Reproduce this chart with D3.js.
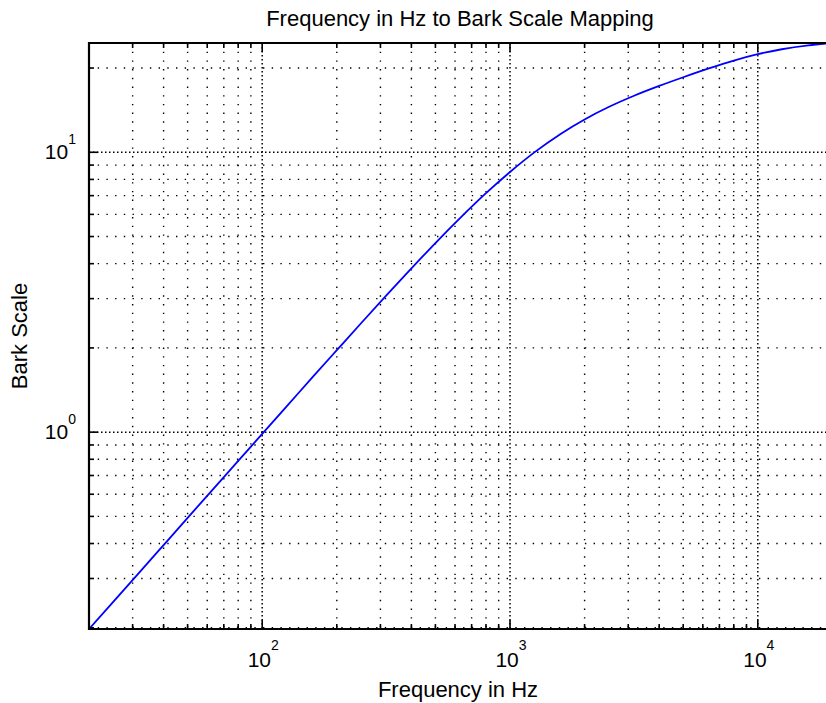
<!DOCTYPE html>
<html>
<head>
<meta charset="utf-8">
<script src="https://d3js.org/d3.v7.min.js"></script>
<style>
  body { margin: 0; background: #fff; }
  svg { display: block; }
  text { font-family: "Liberation Sans", Arial, sans-serif; fill: #000; }
</style>
</head>
<body>
<div id="chart"></div>
<script>
// values (Hz -> Bark)
const freqHz = [20, 25, 31.5, 40, 50, 63, 80, 100, 125, 160, 200, 250, 315, 400, 500, 630, 800,
    1000, 1250, 1600, 2000, 2500, 3150, 4000, 5000, 6300, 8000, 10000, 12500, 16000, 20000];
const barkValues = [0.198, 0.247, 0.311, 0.395, 0.494, 0.622, 0.789, 0.986, 1.231, 1.575, 1.963, 2.445,
    3.061, 3.847, 4.741, 5.830, 7.142, 8.505, 9.974, 11.633, 13.104, 14.509, 15.888, 17.259, 18.539,
    19.894, 21.275, 22.424, 23.345, 24.095, 24.575];
const xMajorTicks = [100, 1000, 10000];
const yMajorTicks = [1, 10];
const xDomain = [20, 20000];
const yDomain = [0.198, 24.575];

const titleText = "Frequency in Hz to Bark Scale Mapping";
const xLabelText = "Frequency in Hz";
const yLabelText = "Bark Scale";

const width = 826, height = 703;
const plotLeft = 89, plotTop = 43, plotBottom = 629;
const decade = 247.8;
const plotRight = plotLeft + decade * Math.log10(xDomain[1] / xDomain[0]);

const svg = d3.select("#chart").append("svg")
    .attr("width", width)
    .attr("height", height);

const x = d3.scaleLog().domain(xDomain).range([plotLeft, plotRight]);
const y = d3.scaleLog().domain(yDomain).range([plotBottom, plotTop]);

// all 1..9 multiples from the scales, decades kept apart
const isDecade = v => Math.abs(Math.log10(v) - Math.round(Math.log10(v))) < 1e-9;
const xMinor = x.ticks().filter(v => !isDecade(v));
const yMinor = y.ticks().filter(v => !isDecade(v));

const grid = svg.append("g").attr("stroke", "#000").attr("fill", "none");

// minor grid
grid.selectAll(".gxm").data(xMinor).enter().append("line")
    .attr("x1", d => x(d)).attr("x2", d => x(d))
    .attr("y1", plotTop).attr("y2", plotBottom)
    .attr("stroke-width", 1.4)
    .attr("stroke-dasharray", "1.4,7.3");
grid.selectAll(".gym").data(yMinor).enter().append("line")
    .attr("y1", d => y(d)).attr("y2", d => y(d))
    .attr("x1", plotLeft).attr("x2", plotRight)
    .attr("stroke-width", 1.4)
    .attr("stroke-dasharray", "1.4,7.3");

// major grid (denser dots)
grid.selectAll(".gxM").data(xMajorTicks).enter().append("line")
    .attr("x1", d => x(d)).attr("x2", d => x(d))
    .attr("y1", plotTop).attr("y2", plotBottom)
    .attr("stroke-width", 1.5)
    .attr("stroke-dasharray", "1.5,2.5");
grid.selectAll(".gyM").data(yMajorTicks).enter().append("line")
    .attr("y1", d => y(d)).attr("y2", d => y(d))
    .attr("x1", plotLeft).attr("x2", plotRight)
    .attr("stroke-width", 1.5)
    .attr("stroke-dasharray", "1.5,2.5");

// curve
svg.append("clipPath").attr("id", "plotclip")
    .append("rect").attr("x", plotLeft).attr("y", plotTop)
    .attr("width", plotRight - plotLeft).attr("height", plotBottom - plotTop);

const line = d3.line()
    .x((d, i) => x(freqHz[i]))
    .y(d => y(d))
    .curve(d3.curveMonotoneX);

svg.append("path")
    .datum(barkValues)
    .attr("clip-path", "url(#plotclip)")
    .attr("fill", "none")
    .attr("stroke", "#0000ff")
    .attr("stroke-width", 1.8)
    .attr("d", line);

// axes box + inward ticks
const ax = svg.append("g").attr("stroke", "#000").attr("stroke-width", 1.6);
const majLen = 9, minLen = 5;
xMajorTicks.concat(xMinor).forEach(v => {
    const len = isDecade(v) ? majLen : minLen;
    ax.append("line").attr("x1", x(v)).attr("x2", x(v)).attr("y1", plotBottom).attr("y2", plotBottom - len);
    ax.append("line").attr("x1", x(v)).attr("x2", x(v)).attr("y1", plotTop).attr("y2", plotTop + len);
});
yMajorTicks.concat(yMinor).forEach(v => {
    const len = isDecade(v) ? majLen : minLen;
    ax.append("line").attr("y1", y(v)).attr("y2", y(v)).attr("x1", plotLeft).attr("x2", plotLeft + len);
});
ax.append("line").attr("x1", plotLeft).attr("x2", plotRight).attr("y1", plotTop).attr("y2", plotTop).attr("stroke-width", 2.2);
ax.append("line").attr("x1", plotLeft).attr("x2", plotRight).attr("y1", plotBottom).attr("y2", plotBottom).attr("stroke-width", 2.2);
ax.append("line").attr("x1", plotLeft).attr("x2", plotLeft).attr("y1", plotTop - 1).attr("y2", plotBottom + 1).attr("stroke-width", 2.2);

// tick labels
svg.selectAll(".xl").data(xMajorTicks).enter().append("text")
    .attr("x", d => x(d) + 1)
    .attr("y", 667)
    .attr("text-anchor", "middle")
    .style("font-size", "21px")
    .text("10")
    .append("tspan")
    .attr("dy", -17)
    .style("font-size", "14px")
    .text(d => Math.round(Math.log10(d)));

svg.selectAll(".yl").data(yMajorTicks).enter().append("text")
    .attr("x", 76)
    .attr("y", d => y(d) + 7)
    .attr("text-anchor", "end")
    .style("font-size", "21px")
    .text("10")
    .append("tspan")
    .attr("dy", -15)
    .style("font-size", "14px")
    .text(d => Math.round(Math.log10(d)));

// titles
svg.append("text")
    .attr("x", 460)
    .attr("y", 26)
    .attr("text-anchor", "middle")
    .style("font-size", "22px")
    .text(titleText);

svg.append("text")
    .attr("x", 458)
    .attr("y", 697)
    .attr("text-anchor", "middle")
    .style("font-size", "22px")
    .text(xLabelText);

svg.append("text")
    .attr("transform", `translate(27,${(plotTop + plotBottom) / 2}) rotate(-90)`)
    .attr("text-anchor", "middle")
    .style("font-size", "22px")
    .text(yLabelText);
</script>
</body>
</html>
